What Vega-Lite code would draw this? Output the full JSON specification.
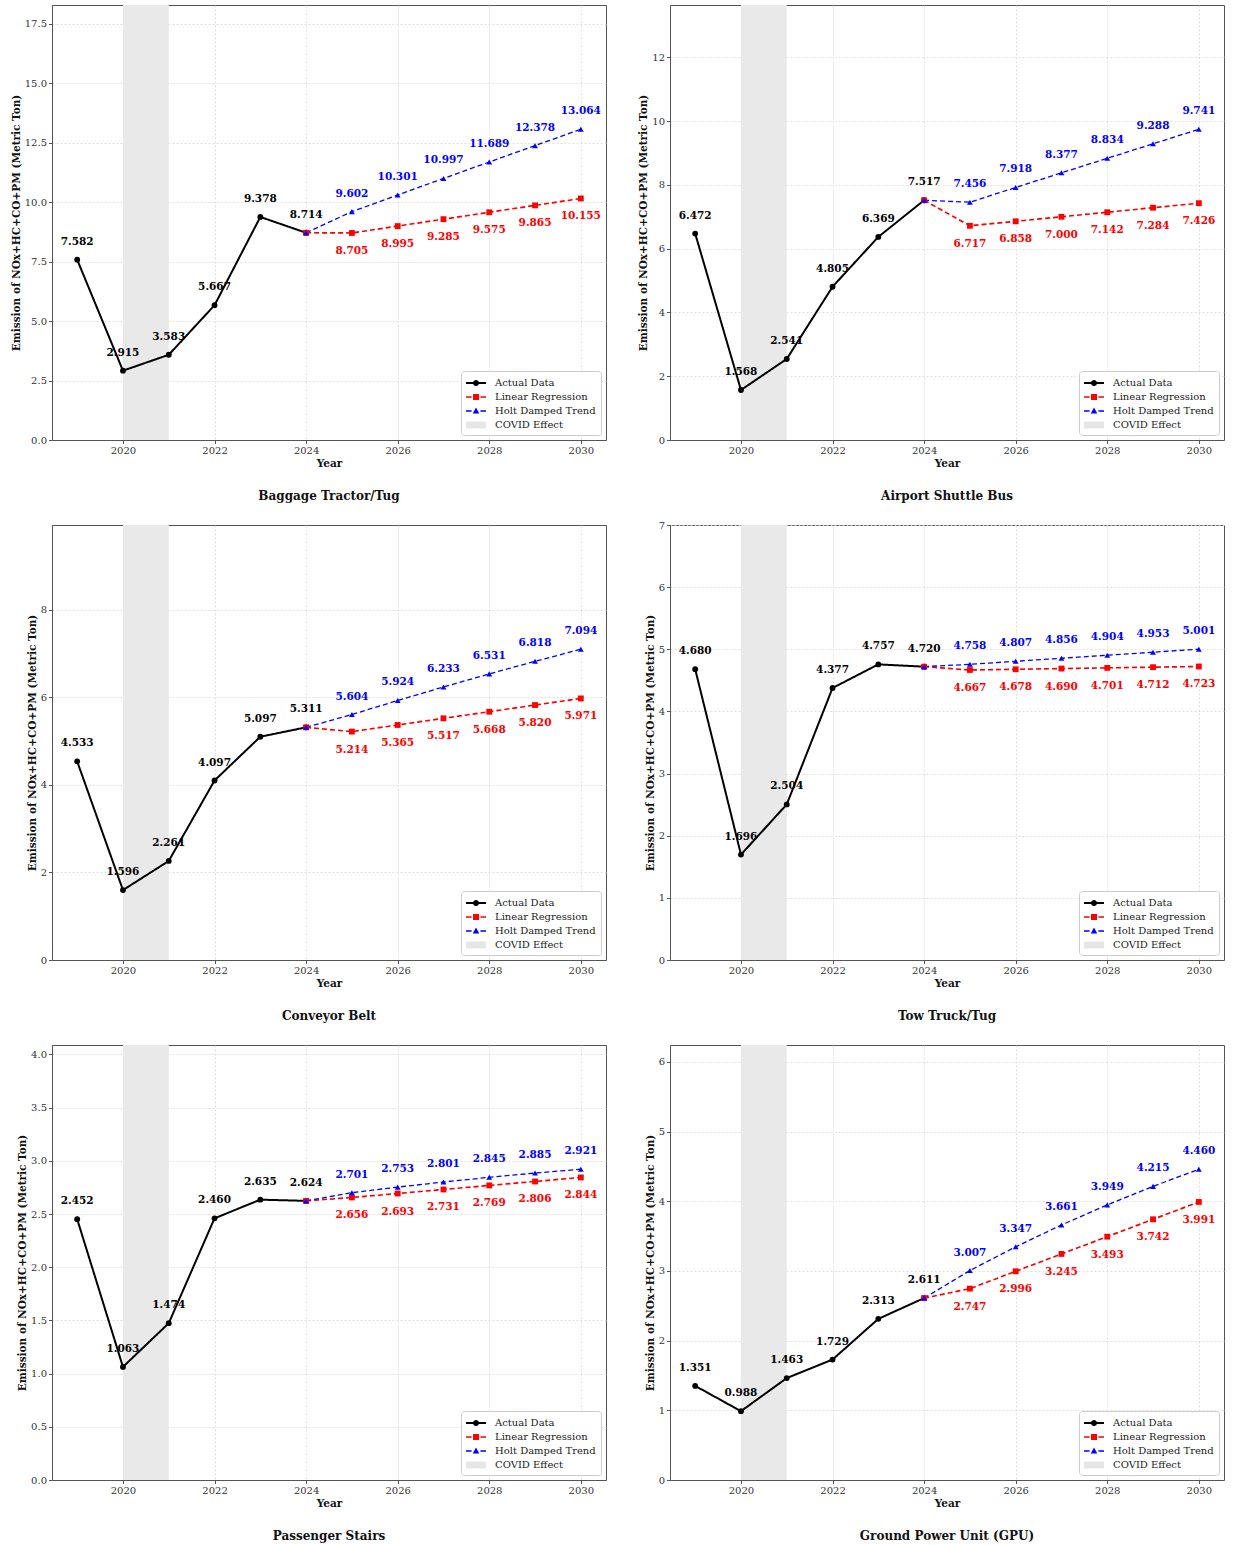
{
"$schema":"https://vega.github.io/schema/vega-lite/v6.json",
"background":"white",
"padding":{"left":10,"top":3,"right":5,"bottom":0},
"datasets":{"em":[
{"panel":"Baggage Tractor/Tug","series":"Actual Data","year":2019,"value":7.582},
{"panel":"Baggage Tractor/Tug","series":"Actual Data","year":2020,"value":2.915},
{"panel":"Baggage Tractor/Tug","series":"Actual Data","year":2021,"value":3.583},
{"panel":"Baggage Tractor/Tug","series":"Actual Data","year":2022,"value":5.667},
{"panel":"Baggage Tractor/Tug","series":"Actual Data","year":2023,"value":9.378},
{"panel":"Baggage Tractor/Tug","series":"Actual Data","year":2024,"value":8.714},
{"panel":"Baggage Tractor/Tug","series":"Linear Regression","year":2024,"value":8.714},
{"panel":"Baggage Tractor/Tug","series":"Linear Regression","year":2025,"value":8.705},
{"panel":"Baggage Tractor/Tug","series":"Linear Regression","year":2026,"value":8.995},
{"panel":"Baggage Tractor/Tug","series":"Linear Regression","year":2027,"value":9.285},
{"panel":"Baggage Tractor/Tug","series":"Linear Regression","year":2028,"value":9.575},
{"panel":"Baggage Tractor/Tug","series":"Linear Regression","year":2029,"value":9.865},
{"panel":"Baggage Tractor/Tug","series":"Linear Regression","year":2030,"value":10.155},
{"panel":"Baggage Tractor/Tug","series":"Holt Damped Trend","year":2024,"value":8.714},
{"panel":"Baggage Tractor/Tug","series":"Holt Damped Trend","year":2025,"value":9.602},
{"panel":"Baggage Tractor/Tug","series":"Holt Damped Trend","year":2026,"value":10.301},
{"panel":"Baggage Tractor/Tug","series":"Holt Damped Trend","year":2027,"value":10.997},
{"panel":"Baggage Tractor/Tug","series":"Holt Damped Trend","year":2028,"value":11.689},
{"panel":"Baggage Tractor/Tug","series":"Holt Damped Trend","year":2029,"value":12.378},
{"panel":"Baggage Tractor/Tug","series":"Holt Damped Trend","year":2030,"value":13.064},

{"panel":"Airport Shuttle Bus","series":"Actual Data","year":2019,"value":6.472},
{"panel":"Airport Shuttle Bus","series":"Actual Data","year":2020,"value":1.568},
{"panel":"Airport Shuttle Bus","series":"Actual Data","year":2021,"value":2.541},
{"panel":"Airport Shuttle Bus","series":"Actual Data","year":2022,"value":4.805},
{"panel":"Airport Shuttle Bus","series":"Actual Data","year":2023,"value":6.369},
{"panel":"Airport Shuttle Bus","series":"Actual Data","year":2024,"value":7.517},
{"panel":"Airport Shuttle Bus","series":"Linear Regression","year":2024,"value":7.517},
{"panel":"Airport Shuttle Bus","series":"Linear Regression","year":2025,"value":6.717},
{"panel":"Airport Shuttle Bus","series":"Linear Regression","year":2026,"value":6.858},
{"panel":"Airport Shuttle Bus","series":"Linear Regression","year":2027,"value":7.000},
{"panel":"Airport Shuttle Bus","series":"Linear Regression","year":2028,"value":7.142},
{"panel":"Airport Shuttle Bus","series":"Linear Regression","year":2029,"value":7.284},
{"panel":"Airport Shuttle Bus","series":"Linear Regression","year":2030,"value":7.426},
{"panel":"Airport Shuttle Bus","series":"Holt Damped Trend","year":2024,"value":7.517},
{"panel":"Airport Shuttle Bus","series":"Holt Damped Trend","year":2025,"value":7.456},
{"panel":"Airport Shuttle Bus","series":"Holt Damped Trend","year":2026,"value":7.918},
{"panel":"Airport Shuttle Bus","series":"Holt Damped Trend","year":2027,"value":8.377},
{"panel":"Airport Shuttle Bus","series":"Holt Damped Trend","year":2028,"value":8.834},
{"panel":"Airport Shuttle Bus","series":"Holt Damped Trend","year":2029,"value":9.288},
{"panel":"Airport Shuttle Bus","series":"Holt Damped Trend","year":2030,"value":9.741},

{"panel":"Conveyor Belt","series":"Actual Data","year":2019,"value":4.533},
{"panel":"Conveyor Belt","series":"Actual Data","year":2020,"value":1.596},
{"panel":"Conveyor Belt","series":"Actual Data","year":2021,"value":2.261},
{"panel":"Conveyor Belt","series":"Actual Data","year":2022,"value":4.097},
{"panel":"Conveyor Belt","series":"Actual Data","year":2023,"value":5.097},
{"panel":"Conveyor Belt","series":"Actual Data","year":2024,"value":5.311},
{"panel":"Conveyor Belt","series":"Linear Regression","year":2024,"value":5.311},
{"panel":"Conveyor Belt","series":"Linear Regression","year":2025,"value":5.214},
{"panel":"Conveyor Belt","series":"Linear Regression","year":2026,"value":5.365},
{"panel":"Conveyor Belt","series":"Linear Regression","year":2027,"value":5.517},
{"panel":"Conveyor Belt","series":"Linear Regression","year":2028,"value":5.668},
{"panel":"Conveyor Belt","series":"Linear Regression","year":2029,"value":5.820},
{"panel":"Conveyor Belt","series":"Linear Regression","year":2030,"value":5.971},
{"panel":"Conveyor Belt","series":"Holt Damped Trend","year":2024,"value":5.311},
{"panel":"Conveyor Belt","series":"Holt Damped Trend","year":2025,"value":5.604},
{"panel":"Conveyor Belt","series":"Holt Damped Trend","year":2026,"value":5.924},
{"panel":"Conveyor Belt","series":"Holt Damped Trend","year":2027,"value":6.233},
{"panel":"Conveyor Belt","series":"Holt Damped Trend","year":2028,"value":6.531},
{"panel":"Conveyor Belt","series":"Holt Damped Trend","year":2029,"value":6.818},
{"panel":"Conveyor Belt","series":"Holt Damped Trend","year":2030,"value":7.094},

{"panel":"Tow Truck/Tug","series":"Actual Data","year":2019,"value":4.680},
{"panel":"Tow Truck/Tug","series":"Actual Data","year":2020,"value":1.696},
{"panel":"Tow Truck/Tug","series":"Actual Data","year":2021,"value":2.504},
{"panel":"Tow Truck/Tug","series":"Actual Data","year":2022,"value":4.377},
{"panel":"Tow Truck/Tug","series":"Actual Data","year":2023,"value":4.757},
{"panel":"Tow Truck/Tug","series":"Actual Data","year":2024,"value":4.720},
{"panel":"Tow Truck/Tug","series":"Linear Regression","year":2024,"value":4.720},
{"panel":"Tow Truck/Tug","series":"Linear Regression","year":2025,"value":4.667},
{"panel":"Tow Truck/Tug","series":"Linear Regression","year":2026,"value":4.678},
{"panel":"Tow Truck/Tug","series":"Linear Regression","year":2027,"value":4.690},
{"panel":"Tow Truck/Tug","series":"Linear Regression","year":2028,"value":4.701},
{"panel":"Tow Truck/Tug","series":"Linear Regression","year":2029,"value":4.712},
{"panel":"Tow Truck/Tug","series":"Linear Regression","year":2030,"value":4.723},
{"panel":"Tow Truck/Tug","series":"Holt Damped Trend","year":2024,"value":4.720},
{"panel":"Tow Truck/Tug","series":"Holt Damped Trend","year":2025,"value":4.758},
{"panel":"Tow Truck/Tug","series":"Holt Damped Trend","year":2026,"value":4.807},
{"panel":"Tow Truck/Tug","series":"Holt Damped Trend","year":2027,"value":4.856},
{"panel":"Tow Truck/Tug","series":"Holt Damped Trend","year":2028,"value":4.904},
{"panel":"Tow Truck/Tug","series":"Holt Damped Trend","year":2029,"value":4.953},
{"panel":"Tow Truck/Tug","series":"Holt Damped Trend","year":2030,"value":5.001},

{"panel":"Passenger Stairs","series":"Actual Data","year":2019,"value":2.452},
{"panel":"Passenger Stairs","series":"Actual Data","year":2020,"value":1.063},
{"panel":"Passenger Stairs","series":"Actual Data","year":2021,"value":1.474},
{"panel":"Passenger Stairs","series":"Actual Data","year":2022,"value":2.460},
{"panel":"Passenger Stairs","series":"Actual Data","year":2023,"value":2.635},
{"panel":"Passenger Stairs","series":"Actual Data","year":2024,"value":2.624},
{"panel":"Passenger Stairs","series":"Linear Regression","year":2024,"value":2.624},
{"panel":"Passenger Stairs","series":"Linear Regression","year":2025,"value":2.656},
{"panel":"Passenger Stairs","series":"Linear Regression","year":2026,"value":2.693},
{"panel":"Passenger Stairs","series":"Linear Regression","year":2027,"value":2.731},
{"panel":"Passenger Stairs","series":"Linear Regression","year":2028,"value":2.769},
{"panel":"Passenger Stairs","series":"Linear Regression","year":2029,"value":2.806},
{"panel":"Passenger Stairs","series":"Linear Regression","year":2030,"value":2.844},
{"panel":"Passenger Stairs","series":"Holt Damped Trend","year":2024,"value":2.624},
{"panel":"Passenger Stairs","series":"Holt Damped Trend","year":2025,"value":2.701},
{"panel":"Passenger Stairs","series":"Holt Damped Trend","year":2026,"value":2.753},
{"panel":"Passenger Stairs","series":"Holt Damped Trend","year":2027,"value":2.801},
{"panel":"Passenger Stairs","series":"Holt Damped Trend","year":2028,"value":2.845},
{"panel":"Passenger Stairs","series":"Holt Damped Trend","year":2029,"value":2.885},
{"panel":"Passenger Stairs","series":"Holt Damped Trend","year":2030,"value":2.921},

{"panel":"Ground Power Unit (GPU)","series":"Actual Data","year":2019,"value":1.351},
{"panel":"Ground Power Unit (GPU)","series":"Actual Data","year":2020,"value":0.988},
{"panel":"Ground Power Unit (GPU)","series":"Actual Data","year":2021,"value":1.463},
{"panel":"Ground Power Unit (GPU)","series":"Actual Data","year":2022,"value":1.729},
{"panel":"Ground Power Unit (GPU)","series":"Actual Data","year":2023,"value":2.313},
{"panel":"Ground Power Unit (GPU)","series":"Actual Data","year":2024,"value":2.611},
{"panel":"Ground Power Unit (GPU)","series":"Linear Regression","year":2024,"value":2.611},
{"panel":"Ground Power Unit (GPU)","series":"Linear Regression","year":2025,"value":2.747},
{"panel":"Ground Power Unit (GPU)","series":"Linear Regression","year":2026,"value":2.996},
{"panel":"Ground Power Unit (GPU)","series":"Linear Regression","year":2027,"value":3.245},
{"panel":"Ground Power Unit (GPU)","series":"Linear Regression","year":2028,"value":3.493},
{"panel":"Ground Power Unit (GPU)","series":"Linear Regression","year":2029,"value":3.742},
{"panel":"Ground Power Unit (GPU)","series":"Linear Regression","year":2030,"value":3.991},
{"panel":"Ground Power Unit (GPU)","series":"Holt Damped Trend","year":2024,"value":2.611},
{"panel":"Ground Power Unit (GPU)","series":"Holt Damped Trend","year":2025,"value":3.007},
{"panel":"Ground Power Unit (GPU)","series":"Holt Damped Trend","year":2026,"value":3.347},
{"panel":"Ground Power Unit (GPU)","series":"Holt Damped Trend","year":2027,"value":3.661},
{"panel":"Ground Power Unit (GPU)","series":"Holt Damped Trend","year":2028,"value":3.949},
{"panel":"Ground Power Unit (GPU)","series":"Holt Damped Trend","year":2029,"value":4.215},
{"panel":"Ground Power Unit (GPU)","series":"Holt Damped Trend","year":2030,"value":4.460}
]},
"columns":2,
"bounds":"flush",
"spacing":{"row":85,"column":64},
"resolve":{"scale":{"color":"independent","shape":"independent","strokeDash":"independent","strokeWidth":"independent"},"legend":{"color":"independent","shape":"independent"}},
"concat":[
{"width":554,"height":435,"title":"Baggage Tractor/Tug","data":{"name":"em"},"transform":[{"filter":"datum.panel === 'Baggage Tractor/Tug'"}],
"encoding":{"x":{"field":"year","type":"quantitative","title":"Year","scale":{"domain":[2018.45,2030.55],"nice":false,"zero":false},"axis":{"values":[2020,2022,2024,2026,2028,2030],"format":"d"}},
"y":{"field":"value","type":"quantitative","title":"Emission of NOx+HC+CO+PM (Metric Ton)","scale":{"domain":[0,18.29],"nice":false},"axis":{"values":[0,2.5,5,7.5,10,12.5,15,17.5],"format":".1f"}}},
"layer":[
{"data":{"values":[{"start":2020,"end":2021}]},"mark":{"type":"rect","fill":"#e9e9e9"},"encoding":{"x":{"field":"start","type":"quantitative","title":"Year","scale":{"domain":[2018.45,2030.55],"nice":false,"zero":false},"axis":{"values":[2020,2022,2024,2026,2028,2030],"format":"d"}},"x2":{"field":"end"},"y":{"value":0},"y2":{"value":"height"}}},
{"mark":{"type":"line"},"encoding":{"color":{"field":"series","type":"nominal","scale":{"domain":["Actual Data","Linear Regression","Holt Damped Trend"],"range":["#000000","#ff0000","#0000ff"]},"legend":null},"strokeDash":{"field":"series","type":"nominal","scale":{"domain":["Actual Data","Linear Regression","Holt Damped Trend"],"range":[[1,0],[5,3],[5,3]]},"legend":null},"strokeWidth":{"field":"series","type":"nominal","scale":{"domain":["Actual Data","Linear Regression","Holt Damped Trend"],"range":[2,1.3,1.3]},"legend":null}}},
{"mark":{"type":"point","filled":true,"size":34,"opacity":1},"encoding":{"color":{"field":"series","type":"nominal","scale":{"domain":["Actual Data","Linear Regression","Holt Damped Trend"],"range":["#000000","#ff0000","#0000ff"]},"legend":null},"shape":{"field":"series","type":"nominal","scale":{"domain":["Actual Data","Linear Regression","Holt Damped Trend"],"range":["circle","square","triangle-up"]},"legend":null}}},
{"transform":[{"filter":"datum.series !== 'Linear Regression' && (datum.series === 'Actual Data' || datum.year >= 2025)"}],"mark":{"type":"text","dy":-18},"encoding":{"text":{"field":"value","type":"quantitative","format":".3f"},"color":{"field":"series","type":"nominal","scale":{"domain":["Actual Data","Linear Regression","Holt Damped Trend"],"range":["#000000","#ff0000","#0000ff"]},"legend":null}}},
{"transform":[{"filter":"datum.series === 'Linear Regression' && datum.year >= 2025"}],"mark":{"type":"text","dy":18},"encoding":{"text":{"field":"value","type":"quantitative","format":".3f"},"color":{"field":"series","type":"nominal","scale":{"domain":["Actual Data","Linear Regression","Holt Damped Trend"],"range":["#000000","#ff0000","#0000ff"]},"legend":null}}},
{"data":{"values":[{"item":"Actual Data"},{"item":"Linear Regression"},{"item":"Holt Damped Trend"},{"item":"COVID Effect"}]},"mark":{"type":"point","filled":true,"opacity":0},"encoding":{"x":{"value":0},"y":{"value":0},
"color":{"field":"item","type":"nominal","scale":{"domain":["Actual Data","Linear Regression","Holt Damped Trend","COVID Effect"],"range":["#000000","#ff0000","#0000ff","#e6e6e6"]},"legend":{"title":null,"orient":"bottom-right","offset":5}},
"shape":{"field":"item","type":"nominal","scale":{"domain":["Actual Data","Linear Regression","Holt Damped Trend","COVID Effect"],"range":["M-1,-0.14H1.86V0.14H-1Z M0.86,0A0.43,0.43 0 1,1 0,0A0.43,0.43 0 1,1 0.86,0Z","M-1,-0.1H-0.2V0.1H-1Z M1.06,-0.1H1.86V0.1H1.06Z M0,-0.43H0.86V0.43H0Z","M-1,-0.1H-0.2V0.1H-1Z M1.06,-0.1H1.86V0.1H1.06Z M0.43,-0.5L0.9,0.35H-0.04Z","M-1,-0.5H1.86V0.5H-1Z"]},"legend":{"title":null,"orient":"bottom-right","offset":5}}}}
],
"resolve":{"scale":{"color":"independent","shape":"independent"}}},

{"width":554,"height":435,"title":"Airport Shuttle Bus","data":{"name":"em"},"transform":[{"filter":"datum.panel === 'Airport Shuttle Bus'"}],
"encoding":{"x":{"field":"year","type":"quantitative","title":"Year","scale":{"domain":[2018.45,2030.55],"nice":false,"zero":false},"axis":{"values":[2020,2022,2024,2026,2028,2030],"format":"d"}},
"y":{"field":"value","type":"quantitative","title":"Emission of NOx+HC+CO+PM (Metric Ton)","scale":{"domain":[0,13.64],"nice":false},"axis":{"values":[0,2,4,6,8,10,12],"format":"d"}}},
"layer":[
{"data":{"values":[{"start":2020,"end":2021}]},"mark":{"type":"rect","fill":"#e9e9e9"},"encoding":{"x":{"field":"start","type":"quantitative","title":"Year","scale":{"domain":[2018.45,2030.55],"nice":false,"zero":false},"axis":{"values":[2020,2022,2024,2026,2028,2030],"format":"d"}},"x2":{"field":"end"},"y":{"value":0},"y2":{"value":"height"}}},
{"mark":{"type":"line"},"encoding":{"color":{"field":"series","type":"nominal","scale":{"domain":["Actual Data","Linear Regression","Holt Damped Trend"],"range":["#000000","#ff0000","#0000ff"]},"legend":null},"strokeDash":{"field":"series","type":"nominal","scale":{"domain":["Actual Data","Linear Regression","Holt Damped Trend"],"range":[[1,0],[5,3],[5,3]]},"legend":null},"strokeWidth":{"field":"series","type":"nominal","scale":{"domain":["Actual Data","Linear Regression","Holt Damped Trend"],"range":[2,1.3,1.3]},"legend":null}}},
{"mark":{"type":"point","filled":true,"size":34,"opacity":1},"encoding":{"color":{"field":"series","type":"nominal","scale":{"domain":["Actual Data","Linear Regression","Holt Damped Trend"],"range":["#000000","#ff0000","#0000ff"]},"legend":null},"shape":{"field":"series","type":"nominal","scale":{"domain":["Actual Data","Linear Regression","Holt Damped Trend"],"range":["circle","square","triangle-up"]},"legend":null}}},
{"transform":[{"filter":"datum.series !== 'Linear Regression' && (datum.series === 'Actual Data' || datum.year >= 2025)"}],"mark":{"type":"text","dy":-18},"encoding":{"text":{"field":"value","type":"quantitative","format":".3f"},"color":{"field":"series","type":"nominal","scale":{"domain":["Actual Data","Linear Regression","Holt Damped Trend"],"range":["#000000","#ff0000","#0000ff"]},"legend":null}}},
{"transform":[{"filter":"datum.series === 'Linear Regression' && datum.year >= 2025"}],"mark":{"type":"text","dy":18},"encoding":{"text":{"field":"value","type":"quantitative","format":".3f"},"color":{"field":"series","type":"nominal","scale":{"domain":["Actual Data","Linear Regression","Holt Damped Trend"],"range":["#000000","#ff0000","#0000ff"]},"legend":null}}},
{"data":{"values":[{"item":"Actual Data"},{"item":"Linear Regression"},{"item":"Holt Damped Trend"},{"item":"COVID Effect"}]},"mark":{"type":"point","filled":true,"opacity":0},"encoding":{"x":{"value":0},"y":{"value":0},
"color":{"field":"item","type":"nominal","scale":{"domain":["Actual Data","Linear Regression","Holt Damped Trend","COVID Effect"],"range":["#000000","#ff0000","#0000ff","#e6e6e6"]},"legend":{"title":null,"orient":"bottom-right","offset":5}},
"shape":{"field":"item","type":"nominal","scale":{"domain":["Actual Data","Linear Regression","Holt Damped Trend","COVID Effect"],"range":["M-1,-0.14H1.86V0.14H-1Z M0.86,0A0.43,0.43 0 1,1 0,0A0.43,0.43 0 1,1 0.86,0Z","M-1,-0.1H-0.2V0.1H-1Z M1.06,-0.1H1.86V0.1H1.06Z M0,-0.43H0.86V0.43H0Z","M-1,-0.1H-0.2V0.1H-1Z M1.06,-0.1H1.86V0.1H1.06Z M0.43,-0.5L0.9,0.35H-0.04Z","M-1,-0.5H1.86V0.5H-1Z"]},"legend":{"title":null,"orient":"bottom-right","offset":5}}}}
],
"resolve":{"scale":{"color":"independent","shape":"independent"}}},

{"width":554,"height":435,"title":"Conveyor Belt","data":{"name":"em"},"transform":[{"filter":"datum.panel === 'Conveyor Belt'"}],
"encoding":{"x":{"field":"year","type":"quantitative","title":"Year","scale":{"domain":[2018.45,2030.55],"nice":false,"zero":false},"axis":{"values":[2020,2022,2024,2026,2028,2030],"format":"d"}},
"y":{"field":"value","type":"quantitative","title":"Emission of NOx+HC+CO+PM (Metric Ton)","scale":{"domain":[0,9.93],"nice":false},"axis":{"values":[0,2,4,6,8],"format":"d"}}},
"layer":[
{"data":{"values":[{"start":2020,"end":2021}]},"mark":{"type":"rect","fill":"#e9e9e9"},"encoding":{"x":{"field":"start","type":"quantitative","title":"Year","scale":{"domain":[2018.45,2030.55],"nice":false,"zero":false},"axis":{"values":[2020,2022,2024,2026,2028,2030],"format":"d"}},"x2":{"field":"end"},"y":{"value":0},"y2":{"value":"height"}}},
{"mark":{"type":"line"},"encoding":{"color":{"field":"series","type":"nominal","scale":{"domain":["Actual Data","Linear Regression","Holt Damped Trend"],"range":["#000000","#ff0000","#0000ff"]},"legend":null},"strokeDash":{"field":"series","type":"nominal","scale":{"domain":["Actual Data","Linear Regression","Holt Damped Trend"],"range":[[1,0],[5,3],[5,3]]},"legend":null},"strokeWidth":{"field":"series","type":"nominal","scale":{"domain":["Actual Data","Linear Regression","Holt Damped Trend"],"range":[2,1.3,1.3]},"legend":null}}},
{"mark":{"type":"point","filled":true,"size":34,"opacity":1},"encoding":{"color":{"field":"series","type":"nominal","scale":{"domain":["Actual Data","Linear Regression","Holt Damped Trend"],"range":["#000000","#ff0000","#0000ff"]},"legend":null},"shape":{"field":"series","type":"nominal","scale":{"domain":["Actual Data","Linear Regression","Holt Damped Trend"],"range":["circle","square","triangle-up"]},"legend":null}}},
{"transform":[{"filter":"datum.series !== 'Linear Regression' && (datum.series === 'Actual Data' || datum.year >= 2025)"}],"mark":{"type":"text","dy":-18},"encoding":{"text":{"field":"value","type":"quantitative","format":".3f"},"color":{"field":"series","type":"nominal","scale":{"domain":["Actual Data","Linear Regression","Holt Damped Trend"],"range":["#000000","#ff0000","#0000ff"]},"legend":null}}},
{"transform":[{"filter":"datum.series === 'Linear Regression' && datum.year >= 2025"}],"mark":{"type":"text","dy":18},"encoding":{"text":{"field":"value","type":"quantitative","format":".3f"},"color":{"field":"series","type":"nominal","scale":{"domain":["Actual Data","Linear Regression","Holt Damped Trend"],"range":["#000000","#ff0000","#0000ff"]},"legend":null}}},
{"data":{"values":[{"item":"Actual Data"},{"item":"Linear Regression"},{"item":"Holt Damped Trend"},{"item":"COVID Effect"}]},"mark":{"type":"point","filled":true,"opacity":0},"encoding":{"x":{"value":0},"y":{"value":0},
"color":{"field":"item","type":"nominal","scale":{"domain":["Actual Data","Linear Regression","Holt Damped Trend","COVID Effect"],"range":["#000000","#ff0000","#0000ff","#e6e6e6"]},"legend":{"title":null,"orient":"bottom-right","offset":5}},
"shape":{"field":"item","type":"nominal","scale":{"domain":["Actual Data","Linear Regression","Holt Damped Trend","COVID Effect"],"range":["M-1,-0.14H1.86V0.14H-1Z M0.86,0A0.43,0.43 0 1,1 0,0A0.43,0.43 0 1,1 0.86,0Z","M-1,-0.1H-0.2V0.1H-1Z M1.06,-0.1H1.86V0.1H1.06Z M0,-0.43H0.86V0.43H0Z","M-1,-0.1H-0.2V0.1H-1Z M1.06,-0.1H1.86V0.1H1.06Z M0.43,-0.5L0.9,0.35H-0.04Z","M-1,-0.5H1.86V0.5H-1Z"]},"legend":{"title":null,"orient":"bottom-right","offset":5}}}}
],
"resolve":{"scale":{"color":"independent","shape":"independent"}}},

{"width":554,"height":435,"title":"Tow Truck/Tug","data":{"name":"em"},"transform":[{"filter":"datum.panel === 'Tow Truck/Tug'"}],
"encoding":{"x":{"field":"year","type":"quantitative","title":"Year","scale":{"domain":[2018.45,2030.55],"nice":false,"zero":false},"axis":{"values":[2020,2022,2024,2026,2028,2030],"format":"d"}},
"y":{"field":"value","type":"quantitative","title":"Emission of NOx+HC+CO+PM (Metric Ton)","scale":{"domain":[0,7.0],"nice":false},"axis":{"values":[0,1,2,3,4,5,6,7],"format":"d"}}},
"layer":[
{"data":{"values":[{"start":2020,"end":2021}]},"mark":{"type":"rect","fill":"#e9e9e9"},"encoding":{"x":{"field":"start","type":"quantitative","title":"Year","scale":{"domain":[2018.45,2030.55],"nice":false,"zero":false},"axis":{"values":[2020,2022,2024,2026,2028,2030],"format":"d"}},"x2":{"field":"end"},"y":{"value":0},"y2":{"value":"height"}}},
{"mark":{"type":"line"},"encoding":{"color":{"field":"series","type":"nominal","scale":{"domain":["Actual Data","Linear Regression","Holt Damped Trend"],"range":["#000000","#ff0000","#0000ff"]},"legend":null},"strokeDash":{"field":"series","type":"nominal","scale":{"domain":["Actual Data","Linear Regression","Holt Damped Trend"],"range":[[1,0],[5,3],[5,3]]},"legend":null},"strokeWidth":{"field":"series","type":"nominal","scale":{"domain":["Actual Data","Linear Regression","Holt Damped Trend"],"range":[2,1.3,1.3]},"legend":null}}},
{"mark":{"type":"point","filled":true,"size":34,"opacity":1},"encoding":{"color":{"field":"series","type":"nominal","scale":{"domain":["Actual Data","Linear Regression","Holt Damped Trend"],"range":["#000000","#ff0000","#0000ff"]},"legend":null},"shape":{"field":"series","type":"nominal","scale":{"domain":["Actual Data","Linear Regression","Holt Damped Trend"],"range":["circle","square","triangle-up"]},"legend":null}}},
{"transform":[{"filter":"datum.series !== 'Linear Regression' && (datum.series === 'Actual Data' || datum.year >= 2025)"}],"mark":{"type":"text","dy":-18},"encoding":{"text":{"field":"value","type":"quantitative","format":".3f"},"color":{"field":"series","type":"nominal","scale":{"domain":["Actual Data","Linear Regression","Holt Damped Trend"],"range":["#000000","#ff0000","#0000ff"]},"legend":null}}},
{"transform":[{"filter":"datum.series === 'Linear Regression' && datum.year >= 2025"}],"mark":{"type":"text","dy":18},"encoding":{"text":{"field":"value","type":"quantitative","format":".3f"},"color":{"field":"series","type":"nominal","scale":{"domain":["Actual Data","Linear Regression","Holt Damped Trend"],"range":["#000000","#ff0000","#0000ff"]},"legend":null}}},
{"data":{"values":[{"item":"Actual Data"},{"item":"Linear Regression"},{"item":"Holt Damped Trend"},{"item":"COVID Effect"}]},"mark":{"type":"point","filled":true,"opacity":0},"encoding":{"x":{"value":0},"y":{"value":0},
"color":{"field":"item","type":"nominal","scale":{"domain":["Actual Data","Linear Regression","Holt Damped Trend","COVID Effect"],"range":["#000000","#ff0000","#0000ff","#e6e6e6"]},"legend":{"title":null,"orient":"bottom-right","offset":5}},
"shape":{"field":"item","type":"nominal","scale":{"domain":["Actual Data","Linear Regression","Holt Damped Trend","COVID Effect"],"range":["M-1,-0.14H1.86V0.14H-1Z M0.86,0A0.43,0.43 0 1,1 0,0A0.43,0.43 0 1,1 0.86,0Z","M-1,-0.1H-0.2V0.1H-1Z M1.06,-0.1H1.86V0.1H1.06Z M0,-0.43H0.86V0.43H0Z","M-1,-0.1H-0.2V0.1H-1Z M1.06,-0.1H1.86V0.1H1.06Z M0.43,-0.5L0.9,0.35H-0.04Z","M-1,-0.5H1.86V0.5H-1Z"]},"legend":{"title":null,"orient":"bottom-right","offset":5}}}}
],
"resolve":{"scale":{"color":"independent","shape":"independent"}}},

{"width":554,"height":435,"title":"Passenger Stairs","data":{"name":"em"},"transform":[{"filter":"datum.panel === 'Passenger Stairs'"}],
"encoding":{"x":{"field":"year","type":"quantitative","title":"Year","scale":{"domain":[2018.45,2030.55],"nice":false,"zero":false},"axis":{"values":[2020,2022,2024,2026,2028,2030],"format":"d"}},
"y":{"field":"value","type":"quantitative","title":"Emission of NOx+HC+CO+PM (Metric Ton)","scale":{"domain":[0,4.089],"nice":false},"axis":{"values":[0,0.5,1,1.5,2,2.5,3,3.5,4],"format":".1f"}}},
"layer":[
{"data":{"values":[{"start":2020,"end":2021}]},"mark":{"type":"rect","fill":"#e9e9e9"},"encoding":{"x":{"field":"start","type":"quantitative","title":"Year","scale":{"domain":[2018.45,2030.55],"nice":false,"zero":false},"axis":{"values":[2020,2022,2024,2026,2028,2030],"format":"d"}},"x2":{"field":"end"},"y":{"value":0},"y2":{"value":"height"}}},
{"mark":{"type":"line"},"encoding":{"color":{"field":"series","type":"nominal","scale":{"domain":["Actual Data","Linear Regression","Holt Damped Trend"],"range":["#000000","#ff0000","#0000ff"]},"legend":null},"strokeDash":{"field":"series","type":"nominal","scale":{"domain":["Actual Data","Linear Regression","Holt Damped Trend"],"range":[[1,0],[5,3],[5,3]]},"legend":null},"strokeWidth":{"field":"series","type":"nominal","scale":{"domain":["Actual Data","Linear Regression","Holt Damped Trend"],"range":[2,1.3,1.3]},"legend":null}}},
{"mark":{"type":"point","filled":true,"size":34,"opacity":1},"encoding":{"color":{"field":"series","type":"nominal","scale":{"domain":["Actual Data","Linear Regression","Holt Damped Trend"],"range":["#000000","#ff0000","#0000ff"]},"legend":null},"shape":{"field":"series","type":"nominal","scale":{"domain":["Actual Data","Linear Regression","Holt Damped Trend"],"range":["circle","square","triangle-up"]},"legend":null}}},
{"transform":[{"filter":"datum.series !== 'Linear Regression' && (datum.series === 'Actual Data' || datum.year >= 2025)"}],"mark":{"type":"text","dy":-18},"encoding":{"text":{"field":"value","type":"quantitative","format":".3f"},"color":{"field":"series","type":"nominal","scale":{"domain":["Actual Data","Linear Regression","Holt Damped Trend"],"range":["#000000","#ff0000","#0000ff"]},"legend":null}}},
{"transform":[{"filter":"datum.series === 'Linear Regression' && datum.year >= 2025"}],"mark":{"type":"text","dy":18},"encoding":{"text":{"field":"value","type":"quantitative","format":".3f"},"color":{"field":"series","type":"nominal","scale":{"domain":["Actual Data","Linear Regression","Holt Damped Trend"],"range":["#000000","#ff0000","#0000ff"]},"legend":null}}},
{"data":{"values":[{"item":"Actual Data"},{"item":"Linear Regression"},{"item":"Holt Damped Trend"},{"item":"COVID Effect"}]},"mark":{"type":"point","filled":true,"opacity":0},"encoding":{"x":{"value":0},"y":{"value":0},
"color":{"field":"item","type":"nominal","scale":{"domain":["Actual Data","Linear Regression","Holt Damped Trend","COVID Effect"],"range":["#000000","#ff0000","#0000ff","#e6e6e6"]},"legend":{"title":null,"orient":"bottom-right","offset":5}},
"shape":{"field":"item","type":"nominal","scale":{"domain":["Actual Data","Linear Regression","Holt Damped Trend","COVID Effect"],"range":["M-1,-0.14H1.86V0.14H-1Z M0.86,0A0.43,0.43 0 1,1 0,0A0.43,0.43 0 1,1 0.86,0Z","M-1,-0.1H-0.2V0.1H-1Z M1.06,-0.1H1.86V0.1H1.06Z M0,-0.43H0.86V0.43H0Z","M-1,-0.1H-0.2V0.1H-1Z M1.06,-0.1H1.86V0.1H1.06Z M0.43,-0.5L0.9,0.35H-0.04Z","M-1,-0.5H1.86V0.5H-1Z"]},"legend":{"title":null,"orient":"bottom-right","offset":5}}}}
],
"resolve":{"scale":{"color":"independent","shape":"independent"}}},

{"width":554,"height":435,"title":"Ground Power Unit (GPU)","data":{"name":"em"},"transform":[{"filter":"datum.panel === 'Ground Power Unit (GPU)'"}],
"encoding":{"x":{"field":"year","type":"quantitative","title":"Year","scale":{"domain":[2018.45,2030.55],"nice":false,"zero":false},"axis":{"values":[2020,2022,2024,2026,2028,2030],"format":"d"}},
"y":{"field":"value","type":"quantitative","title":"Emission of NOx+HC+CO+PM (Metric Ton)","scale":{"domain":[0,6.244],"nice":false},"axis":{"values":[0,1,2,3,4,5,6],"format":"d"}}},
"layer":[
{"data":{"values":[{"start":2020,"end":2021}]},"mark":{"type":"rect","fill":"#e9e9e9"},"encoding":{"x":{"field":"start","type":"quantitative","title":"Year","scale":{"domain":[2018.45,2030.55],"nice":false,"zero":false},"axis":{"values":[2020,2022,2024,2026,2028,2030],"format":"d"}},"x2":{"field":"end"},"y":{"value":0},"y2":{"value":"height"}}},
{"mark":{"type":"line"},"encoding":{"color":{"field":"series","type":"nominal","scale":{"domain":["Actual Data","Linear Regression","Holt Damped Trend"],"range":["#000000","#ff0000","#0000ff"]},"legend":null},"strokeDash":{"field":"series","type":"nominal","scale":{"domain":["Actual Data","Linear Regression","Holt Damped Trend"],"range":[[1,0],[5,3],[5,3]]},"legend":null},"strokeWidth":{"field":"series","type":"nominal","scale":{"domain":["Actual Data","Linear Regression","Holt Damped Trend"],"range":[2,1.3,1.3]},"legend":null}}},
{"mark":{"type":"point","filled":true,"size":34,"opacity":1},"encoding":{"color":{"field":"series","type":"nominal","scale":{"domain":["Actual Data","Linear Regression","Holt Damped Trend"],"range":["#000000","#ff0000","#0000ff"]},"legend":null},"shape":{"field":"series","type":"nominal","scale":{"domain":["Actual Data","Linear Regression","Holt Damped Trend"],"range":["circle","square","triangle-up"]},"legend":null}}},
{"transform":[{"filter":"datum.series !== 'Linear Regression' && (datum.series === 'Actual Data' || datum.year >= 2025)"}],"mark":{"type":"text","dy":-18},"encoding":{"text":{"field":"value","type":"quantitative","format":".3f"},"color":{"field":"series","type":"nominal","scale":{"domain":["Actual Data","Linear Regression","Holt Damped Trend"],"range":["#000000","#ff0000","#0000ff"]},"legend":null}}},
{"transform":[{"filter":"datum.series === 'Linear Regression' && datum.year >= 2025"}],"mark":{"type":"text","dy":18},"encoding":{"text":{"field":"value","type":"quantitative","format":".3f"},"color":{"field":"series","type":"nominal","scale":{"domain":["Actual Data","Linear Regression","Holt Damped Trend"],"range":["#000000","#ff0000","#0000ff"]},"legend":null}}},
{"data":{"values":[{"item":"Actual Data"},{"item":"Linear Regression"},{"item":"Holt Damped Trend"},{"item":"COVID Effect"}]},"mark":{"type":"point","filled":true,"opacity":0},"encoding":{"x":{"value":0},"y":{"value":0},
"color":{"field":"item","type":"nominal","scale":{"domain":["Actual Data","Linear Regression","Holt Damped Trend","COVID Effect"],"range":["#000000","#ff0000","#0000ff","#e6e6e6"]},"legend":{"title":null,"orient":"bottom-right","offset":5}},
"shape":{"field":"item","type":"nominal","scale":{"domain":["Actual Data","Linear Regression","Holt Damped Trend","COVID Effect"],"range":["M-1,-0.14H1.86V0.14H-1Z M0.86,0A0.43,0.43 0 1,1 0,0A0.43,0.43 0 1,1 0.86,0Z","M-1,-0.1H-0.2V0.1H-1Z M1.06,-0.1H1.86V0.1H1.06Z M0,-0.43H0.86V0.43H0Z","M-1,-0.1H-0.2V0.1H-1Z M1.06,-0.1H1.86V0.1H1.06Z M0.43,-0.5L0.9,0.35H-0.04Z","M-1,-0.5H1.86V0.5H-1Z"]},"legend":{"title":null,"orient":"bottom-right","offset":5}}}}
],
"resolve":{"scale":{"color":"independent","shape":"independent"}}}
],
"config":{
"font":"DejaVu Serif",
"view":{"stroke":"#555555","strokeWidth":1},
"axis":{"domain":true,"domainColor":"#555555","domainWidth":1,"labelFont":"DejaVu Serif","labelFontSize":10,"labelColor":"#333333","tickColor":"#555555","tickSize":3.5,"labelPadding":2,"gridColor":"#d8d8d8","gridDash":[2,2],"gridWidth":0.8,"titleFont":"DejaVu Serif","titleFontWeight":"bold","titleFontSize":10.5,"titleColor":"#111111","titlePadding":3},
"title":{"orient":"bottom","anchor":"middle","font":"DejaVu Serif","fontSize":12,"fontWeight":"bold","color":"#111111","offset":22},
"text":{"font":"DejaVu Serif","fontWeight":"bold","fontSize":10.5},
"legend":{"fillColor":"white","strokeColor":"#cccccc","cornerRadius":3,"padding":5,"labelFont":"DejaVu Serif","labelFontSize":10,"labelColor":"#222222","symbolSize":196,"symbolStrokeWidth":0,"symbolOpacity":1,"rowPadding":2,"labelOffset":15}
}
}
